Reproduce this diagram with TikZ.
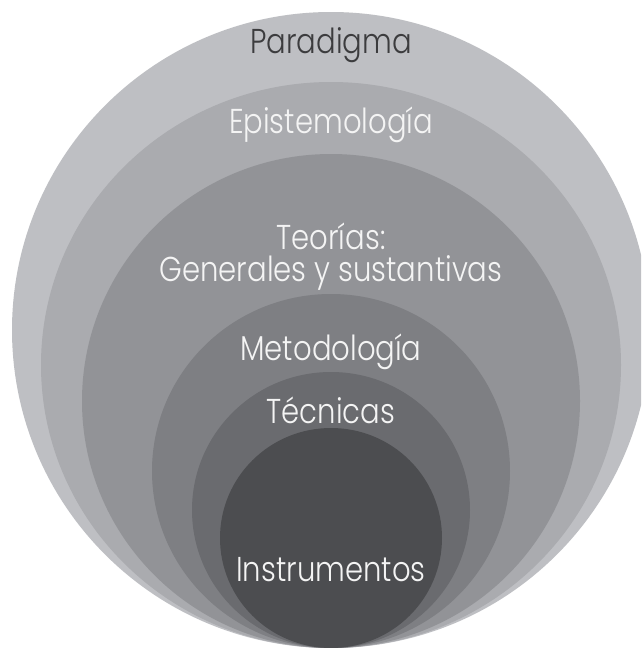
\documentclass[tikz,border=0pt]{standalone}
\usepackage{fontspec}
\usepackage{graphicx}
\setmainfont{Poppins Light}
\definecolor{cA}{RGB}{190,191,195}
\definecolor{cB}{RGB}{170,171,175}
\definecolor{cC}{RGB}{146,147,151}
\definecolor{cD}{RGB}{126,127,131}
\definecolor{cE}{RGB}{106,107,111}
\definecolor{cF}{RGB}{76,77,80}
\definecolor{txtdark}{RGB}{60,60,62}
\definecolor{txtlight}{RGB}{244,244,244}
\newcommand{\stretchtxt}[1]{\scalebox{0.97}[1.15]{#1}}
\begin{document}
\begin{tikzpicture}[x=1pt,y=-1pt,
  lbl/.style={font=\fontsize{30}{34}\selectfont, text=txtlight, inner sep=0pt, align=center}]
\useasboundingbox (0,0) rectangle (641,648);
\fill[white] (0,0) rectangle (641,648);
\begin{scope}
\clip (0,0) rectangle (641,648);
\fill[cA] (331,330) ellipse [x radius=319pt, y radius=318pt];
\fill[cB] (331,365) ellipse [x radius=290pt, y radius=283pt];
\fill[cC] (331,401) ellipse [x radius=249pt, y radius=247pt];
\fill[cD] (331,471) ellipse [x radius=179pt, y radius=177pt];
\fill[cE] (331,510) ellipse [x radius=139pt, y radius=138pt];
\fill[cF] (331,538) ellipse [x radius=111pt, y radius=110pt];
\end{scope}
\node[lbl, text=txtdark] (par) at (331,45) {\stretchtxt{Paradigma}};
\node[lbl] (epi) at (331,125) {\stretchtxt{Epistemología}};
\node[lbl] (teo) at (331,257) {\stretchtxt{Teorías:}\\[-2pt]\stretchtxt{Generales y sustantivas}};
\node[lbl] (met) at (331,352) {\stretchtxt{Metodología}};
\node[lbl] (tec) at (331,410) {\stretchtxt{Técnicas}};
\node[lbl] (ins) at (331,570) {\stretchtxt{Instrumentos}};
\end{tikzpicture}
\end{document}
